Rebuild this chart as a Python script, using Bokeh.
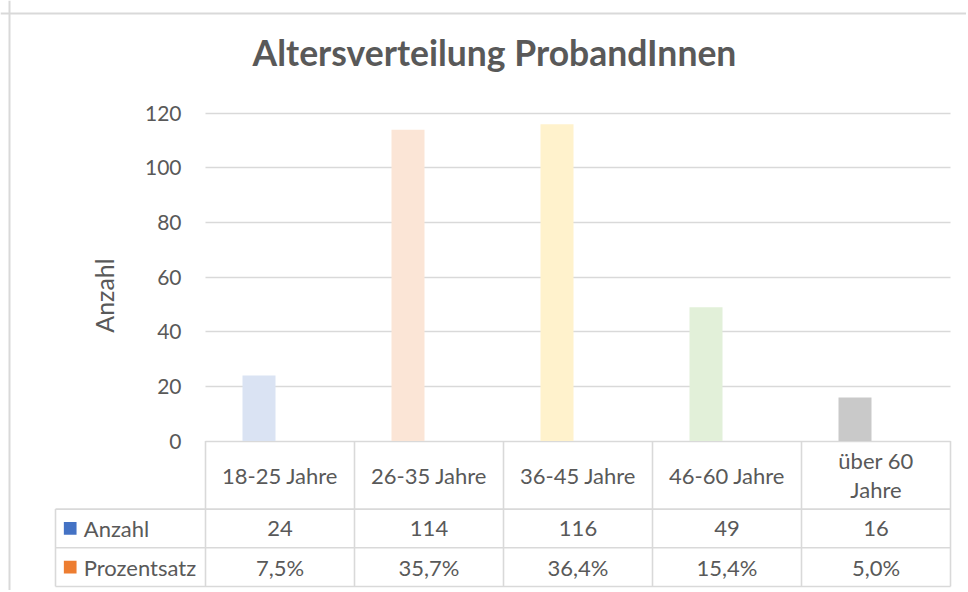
from bokeh.plotting import figure
from bokeh.models import Range1d, LinearAxis, FixedTicker, Grid, Label, Span
from bokeh.core.properties import value
from bokeh.embed import file_html
from bokeh.resources import INLINE

# ---------------- data ----------------
title_text = "Altersverteilung ProbandInnen"
categories = ["18-25 Jahre", "26-35 Jahre", "36-45 Jahre", "46-60 Jahre", "über 60 Jahre"]
header_labels = ["18-25 Jahre", "26-35 Jahre", "36-45 Jahre", "46-60 Jahre", "über 60\nJahre"]
series_names = ["Anzahl", "Prozentsatz"]
anzahl = [24, 114, 116, 49, 16]
prozentsatz = [7.5, 35.7, 36.4, 15.4, 5.0]   # percent
y_ticks = [0, 20, 40, 60, 80, 100, 120]
y_axis_label = "Anzahl"

# ---------------- styles ----------------
bar_colors = ["#DAE3F3", "#FBE5D6", "#FFF2CC", "#E2F0D9", "#C9C9C9"]
key_colors = ["#4472C4", "#ED7D31"]
TEXT = "#595959"
LINE = "#D9D9D9"
FONT = "Lato"

# ---------------- layout geometry (canvas pixels) ----------------
W, H = 966, 590
BORDER_X, BORDER_Y = 9, 13   # chart-area border
PLOT_L = 205            # left edge of the bar area
COL_PX = 149            # width of one category column
ZERO_Y = 440.6          # canvas y of value 0
PX_PER_UNIT = 2.732     # pixels per Anzahl unit
ROW_PX = 38.7           # table row height
TABLE_B = 586           # canvas y of the table bottom
LEGEND_L = 55           # left edge of the table legend column
TITLE_X, TITLE_Y = 494, 52

x_start = (0 - PLOT_L) / COL_PX
x_end = (W - PLOT_L) / COL_PX
y_end = ZERO_Y / PX_PER_UNIT
y_start = -(H - ZERO_Y) / PX_PER_UNIT
t_start = -(H - TABLE_B) / ROW_PX
t_end = TABLE_B / ROW_PX
header_top = (TABLE_B - ZERO_Y) / ROW_PX
legend_left = (LEGEND_L - PLOT_L) / COL_PX

n = len(categories)
centers = [i + 0.5 for i in range(n)]
bar_w = 33 / COL_PX
bar_off = 21 / COL_PX

p = figure(width=W, height=H, output_backend="svg", toolbar_location=None,
           x_range=Range1d(x_start, x_end), y_range=Range1d(y_start, y_end),
           x_axis_location=None, y_axis_location=None,
           min_border_left=0, min_border_top=0,
           min_border_right=0, min_border_bottom=0)
p.extra_y_ranges = {"table": Range1d(t_start, t_end)}
p.outline_line_color = None
p.background_fill_color = "white"
p.border_fill_color = "white"
p.grid.visible = False

# chart border (left and top)
p.add_layout(Span(location=(BORDER_X - PLOT_L) / COL_PX, dimension="height",
                  line_color=LINE, line_width=2))
p.add_layout(Span(location=(ZERO_Y - BORDER_Y) / PX_PER_UNIT, dimension="width",
                  line_color=LINE, line_width=2))

# gridlines
grid_kw = dict(dimension=1, ticker=FixedTicker(ticks=y_ticks),
               grid_line_color=LINE, grid_line_width=1.6)
if "cross_bounds" in Grid.properties():
    p.add_layout(Grid(cross_bounds=(0, n), **grid_kw), "center")
else:
    p.segment(x0=[0] * len(y_ticks), x1=[n] * len(y_ticks), y0=y_ticks, y1=y_ticks,
              line_color=LINE, line_width=1.6)

# y axis
yaxis = LinearAxis(fixed_location=0, ticker=FixedTicker(ticks=y_ticks),
                   axis_label=y_axis_label)
yaxis.axis_line_color = None
yaxis.major_tick_line_color = None
yaxis.minor_tick_line_color = None
yaxis.major_tick_out = 0
yaxis.major_tick_in = 0
yaxis.major_label_standoff = 24
yaxis.major_label_text_font = FONT
yaxis.major_label_text_font_size = "21px"
yaxis.major_label_text_color = TEXT
yaxis.axis_label_text_font = FONT
yaxis.axis_label_text_font_size = "25px"
yaxis.axis_label_text_font_style = "normal"
yaxis.axis_label_text_color = TEXT
yaxis.axis_label_standoff = 23
p.add_layout(yaxis, "left")

# bars (Anzahl series; the Prozentsatz series is too small to show on this scale)
p.vbar(x=[c - bar_off for c in centers], top=anzahl, width=bar_w, bottom=0,
       fill_color=bar_colors, line_color=None)

# title
p.add_layout(Label(x=(TITLE_X - PLOT_L) / COL_PX, y=(ZERO_Y - TITLE_Y) / PX_PER_UNIT,
                   text=title_text, text_align="center", text_baseline="alphabetic",
                   text_font=FONT, text_font_size="35.5px", text_font_style="bold",
                   text_color=TEXT))

# ---------------- data table ----------------
bounds = list(range(n + 1))
p.segment(x0=bounds, x1=bounds, y0=[0] * len(bounds), y1=[header_top] * len(bounds),
          y_range_name="table", line_color=LINE, line_width=1.6)
p.segment(x0=[legend_left], x1=[legend_left], y0=[0], y1=[2],
          y_range_name="table", line_color=LINE, line_width=1.6)
p.segment(x0=[legend_left] * 3, x1=[n] * 3, y0=[0, 1, 2], y1=[0, 1, 2],
          y_range_name="table", line_color=LINE, line_width=1.6)

txt = dict(text_font=value(FONT), text_font_size=value("22px"), text_color=TEXT,
           y_range_name="table")
p.text(x=centers, y=[(2 + header_top) / 2] * n, text=header_labels,
       text_align="center", text_baseline="middle", text_line_height=1.1, **txt)
p.text(x=centers, y=[1.5] * n, text=[str(v) for v in anzahl],
       text_align="center", text_baseline="middle", **txt)
p.text(x=centers, y=[0.5] * n,
       text=[f"{v:.1f}%".replace(".", ",") for v in prozentsatz],
       text_align="center", text_baseline="middle", **txt)

# legend keys in the table
key_x = (69.7 - PLOT_L) / COL_PX
label_x = (83.3 - PLOT_L) / COL_PX
p.scatter(x=[key_x] * 2, y=[1.5, 0.5], marker="square", size=12.7,
          fill_color=key_colors, line_color=None, y_range_name="table")
p.text(x=[label_x] * 2, y=[1.5, 0.5], text=series_names,
       text_align="left", text_baseline="middle", **txt)

open("out.html", "w").write(file_html(p, INLINE))
